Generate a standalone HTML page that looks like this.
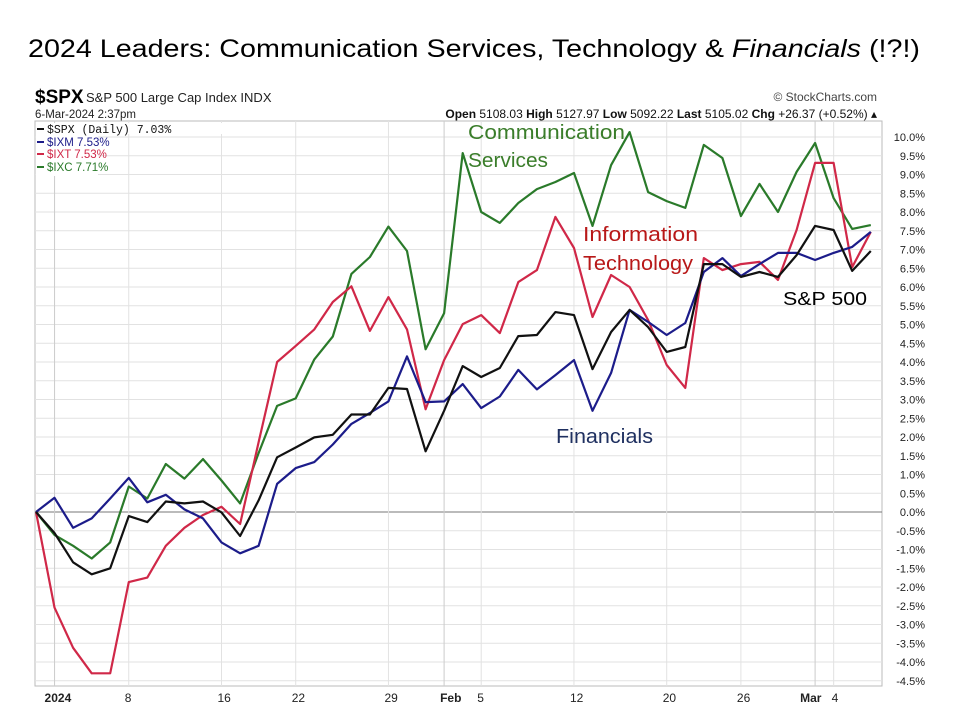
<!DOCTYPE html>
<html><head><meta charset="utf-8"><style>
body{margin:0;background:#fff;width:960px;height:720px;overflow:hidden;font-family:"Liberation Sans",sans-serif}
</style></head><body>
<svg id="s" width="960" height="720" xmlns="http://www.w3.org/2000/svg" font-family="Liberation Sans, sans-serif">
<text x="28" y="57" font-size="25" fill="#000" textLength="892" lengthAdjust="spacingAndGlyphs">2024 Leaders: Communication Services, Technology &amp; <tspan font-style="italic">Financials</tspan>  (!?!)</text>
<text x="35" y="103" font-size="19" font-weight="bold">$SPX</text>
<text x="86" y="102" font-size="13" fill="#222">S&amp;P 500 Large Cap Index  INDX</text>
<text x="35" y="118" font-size="11.5" fill="#222">6-Mar-2024 2:37pm</text>
<text x="877" y="101" font-size="12" text-anchor="end" fill="#444">© StockCharts.com</text>
<text x="877" y="118" font-size="12" text-anchor="end" fill="#111"><tspan font-weight="bold">Open</tspan> 5108.03  <tspan font-weight="bold">High</tspan> 5127.97  <tspan font-weight="bold">Low</tspan> 5092.22  <tspan font-weight="bold">Last</tspan> 5105.02  <tspan font-weight="bold">Chg</tspan> +26.37 (+0.52%) ▴</text>
<g id="g"></g>
</svg>
<script>
var g=document.getElementById('g'),h='';
var L=35,R=882,T=121,B=686;
function Y(v){return 512-v*37.5}
function X(i){return 36+i*18.55}
h+='<rect x="'+L+'" y="'+T+'" width="'+(R-L)+'" height="'+(B-T)+'" fill="#fff" stroke="#bbb"/>';
for(var k=-9;k<=20;k++){var v=k/2,y=Y(v);if(y<T||y>B)continue;
h+='<line x1="'+L+'" x2="'+R+'" y1="'+y+'" y2="'+y+'" stroke="#e2e2e2"/>';
h+='<text x="925" y="'+(y+4)+'" font-size="11" text-anchor="end" fill="#222">'+v.toFixed(1)+'%</text>';}
h+='<line x1="'+L+'" x2="'+R+'" y1="512" y2="512" stroke="#777"/>';
var xs=[[1,'2024',1],[5,'8'],[10,'16'],[14,'22'],[19,'29'],[22,'Feb',1],[24,'5'],[29,'12'],[34,'20'],[38,'26'],[42,'Mar',1],[43,'4']];
xs.forEach(function(a){var x=X(a[0]);h+='<line x1="'+x+'" x2="'+x+'" y1="'+T+'" y2="'+B+'" stroke="'+(a[2]?'#ccc':'#e2e2e2')+'"/>';
var lx=a[1]=='2024'?x-10:(a[1]=='Mar'?x-15:x-4);if(a[1]=='4')lx=x-2;
h+='<text x="'+lx+'" y="702" font-size="12" '+(a[2]?'font-weight="bold"':'')+' fill="#222">'+a[1]+'</text>';});
var S={
'#111':[0,-.56,-1.34,-1.66,-1.5,-.11,-.27,.28,.23,.28,-.01,-.64,.31,1.46,1.72,1.99,2.06,2.6,2.6,3.31,3.28,1.62,2.7,3.89,3.6,3.84,4.69,4.72,5.33,5.25,3.81,4.8,5.39,4.93,4.27,4.4,6.61,6.61,6.27,6.4,6.27,6.85,7.63,7.52,6.43,6.96],
'#1c1c8a':[0,.38,-.42,-.17,.36,.91,.26,.46,.07,-.17,-.81,-1.1,-.9,.75,1.17,1.33,1.8,2.35,2.64,2.95,4.15,2.93,2.95,3.41,2.77,3.08,3.79,3.27,3.65,4.05,2.7,3.71,5.39,5.07,4.72,5.04,6.4,6.77,6.29,6.61,6.91,6.91,6.72,6.91,7.07,7.47],
'#d02848':[0,-2.55,-3.62,-4.3,-4.3,-1.87,-1.75,-.9,-.42,-.08,.14,-.32,1.86,4.0,4.43,4.87,5.6,6.02,4.83,5.73,4.87,2.74,4.05,5.01,5.25,4.77,6.13,6.45,7.87,7.04,5.2,6.32,6.0,5.12,3.92,3.31,6.77,6.45,6.61,6.67,6.19,7.52,9.31,9.31,6.53,7.47],
'#2a7a2a':[0,-.61,-.9,-1.24,-.81,.68,.36,1.28,.89,1.41,.84,.23,1.57,2.83,3.03,4.07,4.68,6.35,6.8,7.61,6.96,4.34,5.3,9.57,8.0,7.71,8.24,8.61,8.8,9.04,7.63,9.25,10.13,8.53,8.29,8.11,9.79,9.44,7.89,8.75,8.0,9.07,9.84,8.37,7.55,7.65]};
['#2a7a2a','#d02848','#1c1c8a','#111'].forEach(function(c){var p=S[c].map(function(v,i){return X(i).toFixed(1)+','+Y(v).toFixed(1)}).join(' ');
h+='<polyline points="'+p+'" fill="none" stroke="'+c+'" stroke-width="2.2" stroke-linejoin="round"/>';});
var lg=[['#111','$SPX (Daily) 7.03%',133,'Liberation Mono'],['#1c1c8a','$IXM 7.53%',146],['#d02848','$IXT 7.53%',158],['#2a7a2a','$IXC 7.71%',171]];
h+='<rect x="36" y="123" width="'+200+'" height="11" fill="#fff"/><rect x="36" y="134" width="62" height="42" fill="#fff"/>';
lg.forEach(function(a){h+='<line x1="37" x2="44" y1="'+(a[2]-4)+'" y2="'+(a[2]-4)+'" stroke="'+a[0]+'" stroke-width="2"/><text x="47" y="'+a[2]+'" font-size="11.5" fill="'+a[0]+'"'+(a[3]?' font-family="Liberation Mono"':'')+'>'+a[1]+'</text>';});
h+='<text x="468" y="139" font-size="20" fill="#3a7d2a" textLength="157" lengthAdjust="spacingAndGlyphs">Communication</text><text x="468" y="167" font-size="20" fill="#3a7d2a" textLength="80" lengthAdjust="spacingAndGlyphs">Services</text>';
h+='<text x="583" y="241" font-size="20" fill="#b81818" textLength="115" lengthAdjust="spacingAndGlyphs">Information</text><text x="583" y="270" font-size="20" fill="#b81818" textLength="110" lengthAdjust="spacingAndGlyphs">Technology</text>';
h+='<text x="783" y="305" font-size="18" fill="#000" textLength="84" lengthAdjust="spacingAndGlyphs">S&amp;P 500</text>';
h+='<text x="556" y="443" font-size="20" fill="#1f3060" textLength="97" lengthAdjust="spacingAndGlyphs">Financials</text>';
g.innerHTML=h;
</script>
</body></html>
